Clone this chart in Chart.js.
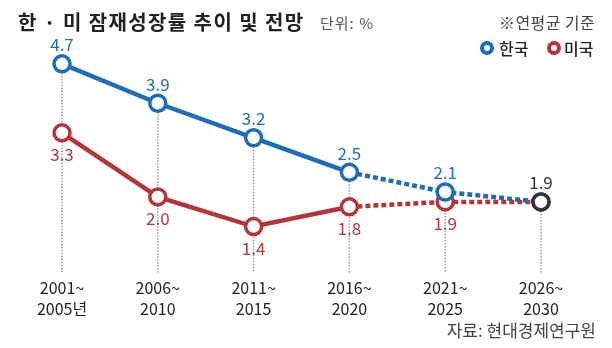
<!DOCTYPE html>
<html><head><meta charset="utf-8">
<script src="https://cdn.jsdelivr.net/npm/chart.js@4/dist/chart.umd.min.js"></script>
<style>
html,body{margin:0;padding:0;background:#fff;}
#wrap{position:relative;width:612px;height:348px;font-family:"Noto Sans CJK KR","Noto Sans",sans-serif;}
canvas{position:absolute;left:0;top:0;}
.t{position:absolute;white-space:nowrap;line-height:1;}
#title{left:18px;top:12px;font-size:20px;font-weight:700;color:#222;letter-spacing:1.4px;}
#unit{left:320px;top:15px;font-size:15px;color:#555;letter-spacing:1px;}
#note{right:17px;top:14px;font-size:16px;color:#444;letter-spacing:0.4px;}
.lg{top:40px;font-size:16px;font-weight:500;color:#222;}
.ring{position:absolute;top:41px;width:6px;height:6px;border-radius:50%;border:4px solid;background:#fff;}
#src{right:16px;top:321px;font-size:17px;color:#444;}
</style></head>
<body><div id="wrap">
<canvas id="c" width="612" height="348"></canvas>
<div class="t" id="title">한 · 미 잠재성장률 추이 및 전망</div>
<div class="t" id="unit">단위: %</div>
<div class="t" id="note">※연평균 기준</div>
<span class="ring" style="left:480px;border-color:#1f6db6"></span>
<div class="t lg" style="left:499px">한국</div>
<span class="ring" style="left:547px;border-color:#b3373a"></span>
<div class="t lg" style="left:564px">미국</div>
<div class="t" id="src">자료: 현대경제연구원</div>
</div>
<script>
const categories = [["2001~","2005년"],["2006~","2010"],["2011~","2015"],["2016~","2020"],["2021~","2025"],["2026~","2030"]];
const korea = [4.7, 3.9, 3.2, 2.5, 2.1, 1.9];
const usa = [3.3, 2.0, 1.4, 1.8, 1.9, 1.9];
const forecastStart = 3;

const BLUE = '#1f6db6', RED = '#b3373a', DARK = '#333333';
const FONT = '"Noto Sans CJK KR","Noto Sans",sans-serif';

const guidePlugin = {
  id:'guides',
  beforeDatasetsDraw(chart){
    const ctx = chart.ctx, x = chart.scales.x, y = chart.scales.y, area = chart.chartArea;
    ctx.save();
    ctx.strokeStyle = '#9a9a9a'; ctx.lineWidth = 1.5; ctx.setLineDash([1.5,1.5]);
    categories.forEach((c,i)=>{
      const px = x.getPixelForValue(i);
      const top = y.getPixelForValue(Math.max(korea[i], usa[i]));
      ctx.beginPath(); ctx.moveTo(px, top); ctx.lineTo(px, area.bottom); ctx.stroke();
    });
    ctx.restore();
  },
  afterDatasetsDraw(chart){
    const ctx = chart.ctx;
    ctx.save();
    ctx.font = '17px ' + FONT; ctx.textAlign = 'center'; ctx.textBaseline = 'middle';
    const last = categories.length - 1;
    chart.data.datasets.forEach((ds, di)=>{
      const meta = chart.getDatasetMeta(di);
      meta.data.forEach((pt, i)=>{
        if (i === last) {
          if (di === 0) { ctx.fillStyle = DARK; ctx.fillText(ds.data[i].toFixed(1), pt.x, pt.y - 19); }
          return;
        }
        ctx.fillStyle = ds.borderColor;
        const dy = di === 0 ? -19 : 22;
        ctx.fillText(ds.data[i].toFixed(1), pt.x, pt.y + dy);
      });
    });
    ctx.restore();
  }
};

function mkds(label, data, color){
  return {
    label, data,
    borderColor: color, borderWidth: 4.5,
    pointRadius: 8, pointHoverRadius: 8, pointBorderWidth: 3.5,
    pointBackgroundColor: '#fff',
    pointBorderColor: data.map((v,i)=> i === data.length-1 ? DARK : color),
    tension: 0,
    segment: { borderDash: ctx => ctx.p0DataIndex >= forecastStart ? [5,3] : undefined }
  };
}

new Chart(document.getElementById('c'), {
  type:'line',
  data:{ labels: categories, datasets:[ mkds('한국', korea, BLUE), mkds('미국', usa, RED) ] },
  options:{
    responsive:false, animation:false,
    layout:{ padding:{ left:62, right:71, top:49, bottom:24 } },
    plugins:{ legend:{display:false}, tooltip:{enabled:false} },
    scales:{
      x:{ offset:false, grid:{display:false, drawTicks:false}, border:{display:false},
          ticks:{ padding:5, color:'#222', font:{ family:FONT, size:16, lineHeight:1.3 }, maxRotation:0, autoSkip:false } },
      y:{ display:false, min:0.47, max:5 }
    }
  },
  plugins:[guidePlugin]
});
</script>
</body></html>
